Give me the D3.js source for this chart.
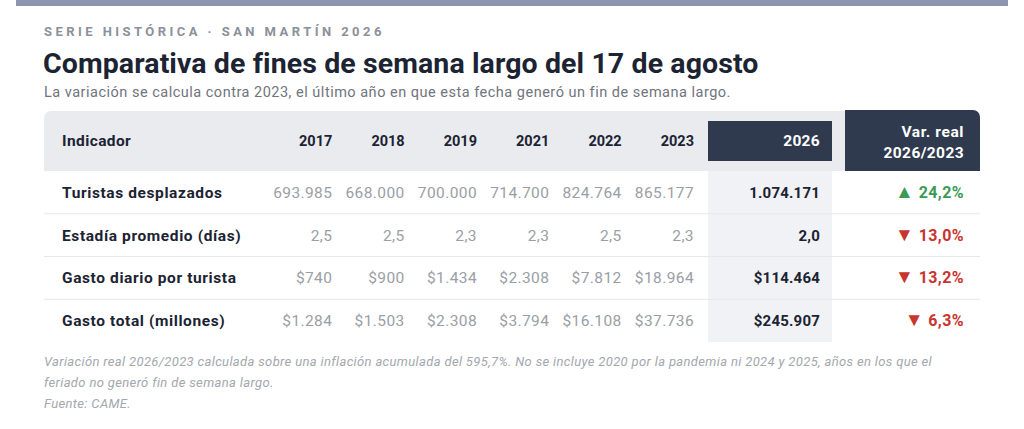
<!DOCTYPE html>
<html>
<head>
<meta charset="utf-8">
<script src="https://cdn.jsdelivr.net/npm/d3@7"></script>
<style>
  body { margin: 0; background: #fff; }
  svg { display: block; font-family: Roboto, "Noto Sans", sans-serif; }
</style>
</head>
<body>
<div id="chart"></div>
<script>
// --> DATA
var years = ["2017", "2018", "2019", "2021", "2022", "2023"];
var indicators = ["Turistas desplazados", "Estadía promedio (días)", "Gasto diario por turista", "Gasto total (millones)"];
var histValues = [
    ["693.985", "668.000", "700.000", "714.700", "824.764", "865.177"],
    ["2,5", "2,5", "2,3", "2,3", "2,5", "2,3"],
    ["$740", "$900", "$1.434", "$2.308", "$7.812", "$18.964"],
    ["$1.284", "$1.503", "$2.308", "$3.794", "$16.108", "$37.736"]
];
var values2026 = ["1.074.171", "2,0", "$114.464", "$245.907"];
var variation = [24.2, -13.0, -13.2, -6.3];
var footnotes = [
    "Variación real 2026/2023 calculada sobre una inflación acumulada del 595,7%. No se incluye 2020 por la pandemia ni 2024 y 2025, años en los que el",
    "feriado no generó fin de semana largo.",
    "Fuente: CAME."
];

var width = 1024,
    height = 429;

var svg = d3.select("#chart").append("svg")
    .attr("width", width)
    .attr("height", height);

var navy = "#2f3a4f",
    ink = "#1c2333",
    grey = "#9a9ea6";

// top band
svg.append("rect")
    .attr("x", 16).attr("y", 0)
    .attr("width", 992).attr("height", 6)
    .attr("fill", "#8d96ae");

// titles
svg.append("text")
    .attr("x", 44).attr("y", 36)
    .attr("font-size", 13).attr("font-weight", 700)
    .attr("letter-spacing", 3.45)
    .attr("fill", "#8b9099")
    .text("SERIE HISTÓRICA · SAN MARTÍN 2026");

svg.append("text")
    .attr("x", 43).attr("y", 73)
    .attr("font-size", 28.5).attr("font-weight", 700)
    .attr("letter-spacing", 0.1)
    .attr("fill", ink)
    .text("Comparativa de fines de semana largo del 17 de agosto");

svg.append("text")
    .attr("x", 44).attr("y", 97)
    .attr("font-size", 14.5)
    .attr("letter-spacing", 0.5)
    .attr("fill", "#6f747d")
    .text("La variación se calcula contra 2023, el último año en que esta fecha generó un fin de semana largo.");

// --> SCALES
var x = d3.scaleBand()
    .domain(years)
    .range([264, 698]);

var y = d3.scaleBand()
    .domain(indicators)
    .range([171, 342]);

var col2026 = { x0: 708, x1: 832, text: 820 },
    colVar = { x0: 845, x1: 980, text: 964 },
    headTop = 111,
    headBottom = 171;

// header band (rounded top corners)
function roundedTop(x0, x1, y0, y1, rl, rr) {
    var p = d3.path();
    p.moveTo(x0, y1);
    p.lineTo(x0, y0 + rl);
    p.arcTo(x0, y0, x0 + rl, y0, rl);
    p.lineTo(x1 - rr, y0);
    p.arcTo(x1, y0, x1, y0 + rr, rr);
    p.lineTo(x1, y1);
    p.closePath();
    return p.toString();
}

svg.append("path")
    .attr("d", roundedTop(44, colVar.x0, headTop, headBottom, 7, 0))
    .attr("fill", "#e9ebef");

svg.append("path")
    .attr("d", roundedTop(colVar.x0, colVar.x1, headTop - 1, headBottom, 0, 7))
    .attr("fill", navy);

svg.append("rect")
    .attr("x", col2026.x0).attr("y", 121)
    .attr("width", col2026.x1 - col2026.x0).attr("height", 40)
    .attr("fill", navy);

// 2026 column background
svg.append("rect")
    .attr("x", col2026.x0).attr("y", headBottom)
    .attr("width", col2026.x1 - col2026.x0)
    .attr("height", y.range()[1] - headBottom)
    .attr("fill", "#f0f2f5");

// header texts
var headY = 146;
svg.append("text")
    .attr("x", 62).attr("y", headY)
    .attr("font-size", 15.5).attr("font-weight", 700)
    .attr("letter-spacing", 0.4)
    .attr("fill", ink)
    .text("Indicador");

svg.selectAll(".year-head")
    .data(years)
    .enter().append("text")
    .attr("class", "year-head")
    .attr("x", function (d) { return x(d) + x.bandwidth() - 4; })
    .attr("y", headY)
    .attr("text-anchor", "end")
    .attr("font-size", 14.5).attr("font-weight", 700)
    .attr("fill", ink)
    .text(function (d) { return d; });

svg.append("text")
    .attr("x", col2026.text).attr("y", headY)
    .attr("text-anchor", "end")
    .attr("font-size", 15.5).attr("font-weight", 700)
    .attr("letter-spacing", 0.3)
    .attr("fill", "#fff")
    .text("2026");

svg.append("text")
    .attr("x", colVar.text).attr("y", 137)
    .attr("text-anchor", "end")
    .attr("font-size", 15.5).attr("font-weight", 700)
    .attr("letter-spacing", 0.6)
    .attr("fill", "#fff")
    .text("Var. real");

svg.append("text")
    .attr("x", colVar.text).attr("y", 158)
    .attr("text-anchor", "end")
    .attr("font-size", 15.5).attr("font-weight", 700)
    .attr("letter-spacing", 0.4)
    .attr("fill", "#fff")
    .text("2026/2023");

// row dividers
svg.selectAll(".divider")
    .data(indicators.slice(1))
    .enter().append("line")
    .attr("class", "divider")
    .attr("x1", 44).attr("x2", colVar.x1)
    .attr("y1", function (d) { return y(d); })
    .attr("y2", function (d) { return y(d); })
    .attr("stroke", "#e6e8ec")
    .attr("stroke-width", 1);

// rows
var rows = svg.selectAll(".row")
    .data(indicators)
    .enter().append("g")
    .attr("class", "row")
    .attr("transform", function (d) { return "translate(0," + (y(d) + y.bandwidth() / 2 + 5.5) + ")"; });

rows.append("text")
    .attr("x", 62)
    .attr("font-size", 15.5).attr("font-weight", 700)
    .attr("letter-spacing", 0.6)
    .attr("fill", ink)
    .text(function (d) { return d; });

rows.selectAll(".hist")
    .data(function (d, i) { return histValues[i]; })
    .enter().append("text")
    .attr("class", "hist")
    .attr("x", function (d, j) { return x(years[j]) + x.bandwidth() - 4; })
    .attr("text-anchor", "end")
    .attr("font-size", 15.5)
    .attr("letter-spacing", 0.4)
    .attr("fill", grey)
    .text(function (d) { return d; });

rows.append("text")
    .attr("x", col2026.text)
    .attr("text-anchor", "end")
    .attr("font-size", 15).attr("font-weight", 700)
    .attr("letter-spacing", 0.2)
    .attr("fill", ink)
    .text(function (d, i) { return values2026[i]; });

var fmt = d3.format(".1f");
var varText = rows.append("text")
    .attr("x", colVar.text)
    .attr("text-anchor", "end")
    .attr("font-size", 16).attr("font-weight", 700)
    .attr("letter-spacing", 0.4)
    .attr("fill", function (d, i) { return variation[i] >= 0 ? "#3a9a56" : "#c8352e"; });

varText.append("tspan")
    .attr("font-size", 19)
    .text(function (d, i) { return variation[i] >= 0 ? "▲" : "▼"; });

varText.append("tspan")
    .text(function (d, i) { return " " + fmt(Math.abs(variation[i])).replace(".", ",") + "%"; });

// footnotes
svg.selectAll(".note")
    .data(footnotes)
    .enter().append("text")
    .attr("class", "note")
    .attr("x", 44)
    .attr("y", function (d, i) { return 366 + i * 21; })
    .attr("font-size", 13).attr("font-style", "italic")
    .attr("letter-spacing", 0.35)
    .attr("fill", "#a3a7ae")
    .text(function (d) { return d; });
</script>
</body>
</html>
